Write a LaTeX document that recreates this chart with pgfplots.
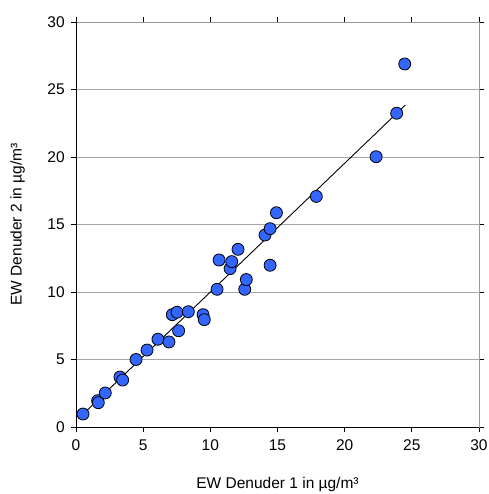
\documentclass[border=0pt]{standalone}
\usepackage{fontspec}
\setmainfont{Liberation Sans}
\usepackage{pgfplots}
\pgfplotsset{compat=1.18}
\definecolor{ptblue}{RGB}{51,102,255}
\begin{document}
\fontsize{15.5bp}{18bp}\selectfont
\begin{tikzpicture}
\path[use as bounding box] (0,0) rectangle (489bp,494bp);
\begin{axis}[
  at={(76bp,67bp)}, anchor=south west,
  scale only axis, width=403bp, height=405bp,
  xmin=0, xmax=30, ymin=0, ymax=30,
  xtick={0,5,...,30}, ytick={0,5,...,30},
  /pgf/number format/assume math mode=true,
  tick align=outside, major tick length=5bp,
  tick style={black, line width=0.8bp},
  axis line style={draw=gray!80, line width=0.8bp},
  ymajorgrids, grid style={gray!70, line width=0.8bp},
  xticklabel style={yshift=-2bp},
  yticklabel style={xshift=-1bp},
  xlabel={EW Denuder 1 in µg/m³},
  ylabel={EW Denuder 2 in µg/m³},
  xlabel style={at={(axis description cs:0.5,-0.143)}, anchor=center},
  ylabel style={at={(axis description cs:-0.145,0.5)}, anchor=center, rotate=0},
  clip=false,
]
\addplot[only marks, mark=*, mark size=6bp, mark options={fill=ptblue, draw=black, line width=0.8bp}] coordinates {
(0.52,0.96) (1.61,1.95) (1.66,1.80) (2.18,2.52) (3.27,3.70) (3.47,3.48)
(4.47,5.00) (5.29,5.70) (6.10,6.50) (6.92,6.30) (7.17,8.32) (7.52,8.50)
(7.64,7.13) (8.36,8.54) (9.46,8.32) (9.55,7.95) (10.50,10.20) (12.56,10.20)
(12.68,10.92) (10.65,12.37) (11.47,11.73) (11.59,12.25) (12.06,13.16)
(14.45,11.98) (14.07,14.22) (14.45,14.69) (14.92,15.87) (17.89,17.08)
(22.34,20.02) (23.87,23.24) (24.47,26.89)
};
\addplot[black, line width=0.9bp] coordinates {(0.52,0.95) (24.52,23.85)};
\draw[black, line width=0.8bp] (rel axis cs:0,1) -- (rel axis cs:0,0) -- (rel axis cs:1,0);
\end{axis}
\end{tikzpicture}
\end{document}
